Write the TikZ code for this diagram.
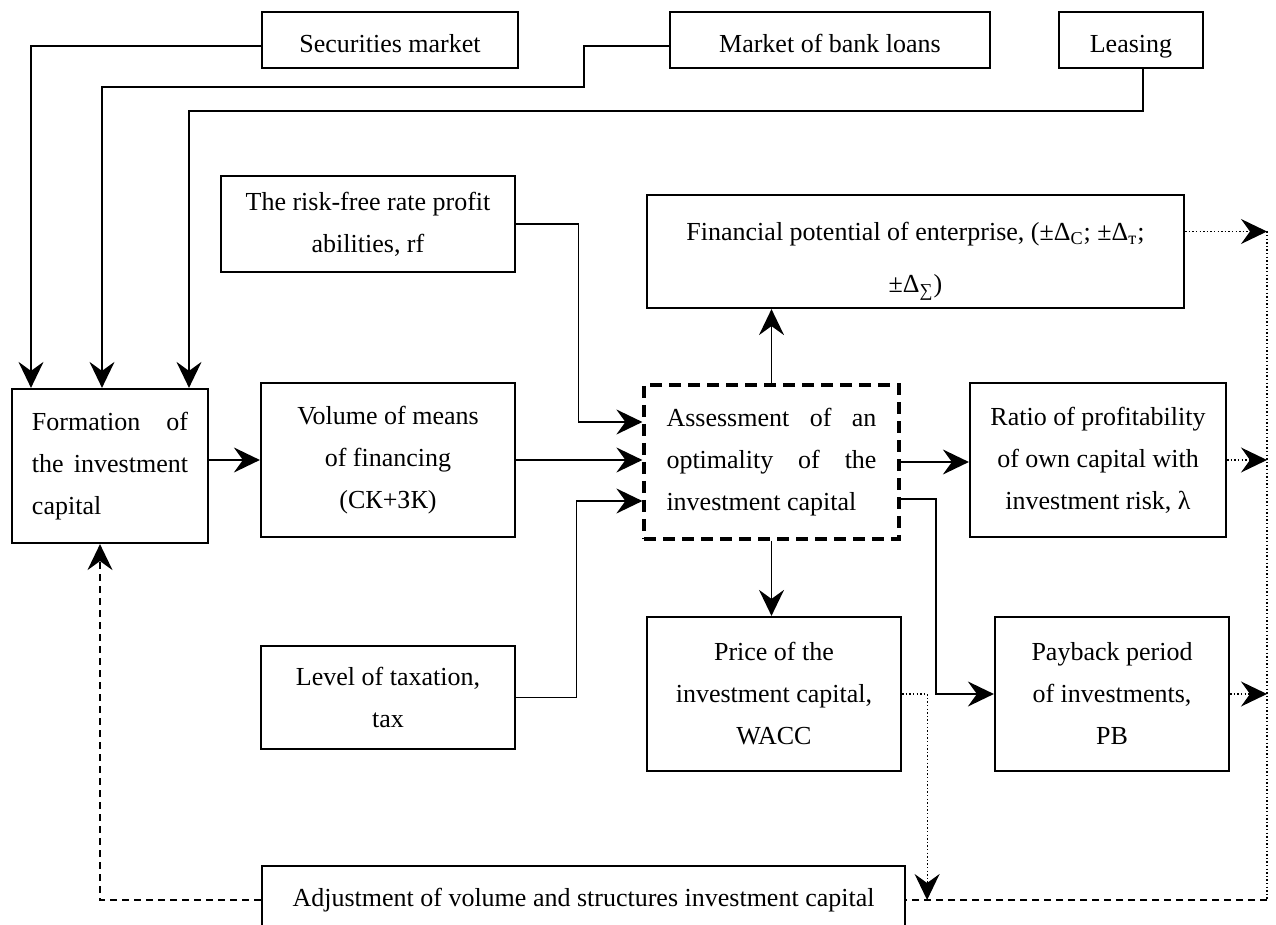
\documentclass[tikz,border=0pt]{standalone}
\usepackage{fontspec}
\setmainfont{Liberation Serif}
\usetikzlibrary{arrows.meta, positioning, calc}

\begin{document}
\begin{tikzpicture}[x=0.5pt, y=-0.5pt,
    font=\fontsize{13}{21}\selectfont,
    riquadro/.style={draw, line width=1.1pt, inner sep=0pt, align=center},
    fonte/.style={riquadro, minimum height=28pt, text height=13pt, text depth=0pt},
    punta/.style={-{Stealth[length=13pt, width=12.5pt, inset=4.5pt]}},
    freccia/.style={line width=0.9pt, punta},
    puntini/.style={line width=0.6pt, dash pattern=on 0.7pt off 1.1pt},
    tratteggio/.style={line width=1pt, dash pattern=on 3.5pt off 2.5pt}]
    % Parametri
    \pgfmathsetmacro{\xdx}{1267}
    \pgfmathsetmacro{\ybasso}{900}
    \useasboundingbox (0,0) rectangle (1276,925);
    \clip (0,0) rectangle (1276,925);
    % Fonti del capitale
    \node[fonte, minimum width=128pt] (titoli) at (390,40) {Securities market};
    \node[fonte, minimum width=160pt] (crediti) at (830,40) {Market of bank loans};
    \node[fonte, minimum width=72pt] (leasing) at (1131,40) {Leasing};
    % Riquadri
    \node[riquadro, minimum width=147pt, minimum height=48pt] (rf) at (368,224) {The risk-free rate profit\\abilities, rf};
    \node[riquadro, minimum width=268.5pt, minimum height=56.5pt] (potenziale) at (915.5,251.5) {\rule{0pt}{19pt}Financial potential of enterprise, (±Δ\textsubscript{С}; ±Δ\textsubscript{т};\\[5pt]±Δ\textsubscript{∑})};
    \node[riquadro, minimum width=98pt, minimum height=77pt, text width=78pt, align=justify] (formazione) at (110,466) {Formation of\linebreak the investment\linebreak capital};
    \node[riquadro, minimum width=127pt, minimum height=77pt] (volume) at (388,460) {Volume of means\\of financing\\(СК+ЗК)};
    \node[riquadro, line width=1.6pt, dash pattern=on 6pt off 3.5pt, minimum width=127.5pt, minimum height=77pt, text width=105pt, align=justify] (valutazione) at (771.5,462) {Assessment of an\linebreak optimality of the\linebreak investment capital};
    \node[riquadro, minimum width=128pt, minimum height=77pt] (rapporto) at (1098,460) {Ratio of profitability\\of own capital with\\investment risk, λ};
    \node[riquadro, minimum width=127pt, minimum height=51.5pt] (tasse) at (388,697.5) {Level of taxation,\\tax};
    \node[riquadro, minimum width=127pt, minimum height=77pt] (prezzo) at (774,694) {Price of the\\investment capital,\\WACC};
    \node[riquadro, minimum width=117pt, minimum height=77pt] (rientro) at (1112,694) {Payback period\\of investments,\\PB};
    \node[riquadro, minimum width=321.5pt, minimum height=34pt] (correzione) at (583.5,\ybasso) {Adjustment of volume and structures investment capital};
    % Punti ausiliari
    \coordinate (k1) at (584,87);
    \coordinate (k2) at (189,111);
    \coordinate (angolo) at (\xdx,\ybasso);
    \coordinate (f1) at ([yshift=10pt]potenziale.east);
    \coordinate (in1) at ([yshift=20pt]valutazione.west);
    \coordinate (in3) at ([yshift=-19.5pt]valutazione.west);
    \coordinate (out2) at ([yshift=-18.5pt]valutazione.east);
    \coordinate (fb) at ([xshift=10.5pt]correzione.east);
    % Frecce dalle fonti
    \draw[freccia] ([yshift=-3pt]titoli.west) -| ([xshift=-39.5pt]formazione.north);
    \draw[freccia] ([yshift=-3pt]crediti.west) -| (k1) -| ([xshift=-4pt]formazione.north);
    \draw[freccia] ([xshift=6pt]leasing.south) |- (k2) -- (k2 |- formazione.north);
    % Frecce centrali
    \draw[freccia] (volume.west -| formazione.east) -- (volume.west);
    \draw[freccia] (volume.east) -- (volume.east -| valutazione.west);
    \draw[freccia] (rf.east) -| ([xshift=-32pt]in1) -- (in1);
    \draw[freccia] (tasse.east) -| ([xshift=-33pt]in3) -- (in3);
    \draw[freccia] (valutazione.north) -- (valutazione.north |- potenziale.south);
    \draw[freccia] (valutazione.south) -- (valutazione.south |- prezzo.north);
    \draw[freccia] (valutazione.east) -- (valutazione.east -| rapporto.west);
    \draw[freccia] (out2) -| ([xshift=-29pt]rientro.west) -- (rientro.west);
    % Retroazione
    \draw[puntini, punta] (f1) -- (f1 -| angolo);
    \draw[puntini, punta] (rapporto.east) -- (rapporto.east -| angolo);
    \draw[puntini, punta] (rientro.east) -- (rientro.east -| angolo);
    \draw[puntini] (f1 -| angolo) -- (angolo);
    \draw[puntini, punta] (prezzo.east) -| (fb);
    \draw[tratteggio] (angolo) -- (correzione.east);
    \draw[tratteggio, punta] (correzione.west) -| ([xshift=-5pt]formazione.south);
\end{tikzpicture}
\end{document}
